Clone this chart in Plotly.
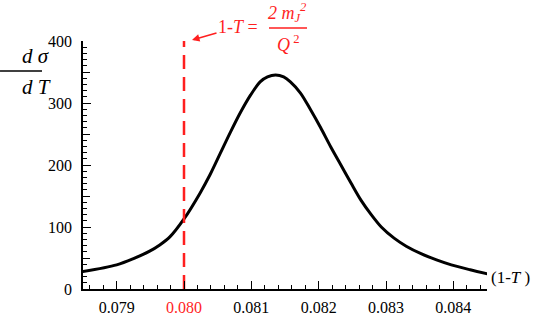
import plotly.graph_objects as go

# thrust-like distribution (1-T) vs d sigma / dT
one_minus_t = [0.07849, 0.0790, 0.07925, 0.07949, 0.07964, 0.07979, 0.0800, 0.08024, 0.08039,
               0.08054, 0.08069, 0.08084, 0.08099, 0.08113, 0.08124, 0.08136, 0.08148,
               0.08158, 0.08173, 0.08188, 0.08203, 0.08218, 0.08233, 0.08248, 0.08263,
               0.08278, 0.08293, 0.08312, 0.08330, 0.08352, 0.08375, 0.08397, 0.08425, 0.08452]
dsigma_dt = [28, 39, 49, 61, 71, 84, 113, 155, 185,
             219, 253, 285, 313, 334, 342, 345, 342,
             334, 316, 289, 260, 229, 200, 171, 143,
             120, 100, 82, 69, 57, 47, 39, 31, 24]

x_ticks = [0.079, 0.080, 0.081, 0.082, 0.083, 0.084]
RED = "#ff1f1f"
x_ticktext = ["0.079", f"<span style='color:{RED}'>0.080</span>", "0.081", "0.082", "0.083", "0.084"]

threshold = 0.080          # 1-T = 2 m_J^2 / Q^2
threshold_span = [0, 414]

FONT = "Liberation Serif"
tick_font = dict(family="Liberation Serif", size=16, color="black")

fig = go.Figure()
fig.add_trace(go.Scatter(
    x=one_minus_t, y=dsigma_dt, mode="lines",
    line=dict(color="black", width=3, shape="spline", smoothing=0.9),
    showlegend=False, hoverinfo="skip",
))
fig.add_trace(go.Scatter(
    x=[threshold, threshold], y=threshold_span, mode="lines", yaxis="y2",
    line=dict(color=RED, width=2.5, dash="14px,8px"), cliponaxis=False,
    showlegend=False, hoverinfo="skip",
))

fig.update_layout(
    width=545, height=322,
    margin=dict(l=83, r=58, t=41, b=33),
    paper_bgcolor="white", plot_bgcolor="white",
    font=dict(family=FONT, size=16, color="black"),
    xaxis=dict(
        range=[0.0785, 0.0845], showgrid=False, zeroline=False, automargin=False,
        showline=True, linecolor="black", linewidth=1.5,
        tickvals=x_ticks, ticktext=x_ticktext, tickfont=tick_font,
        ticks="inside", ticklen=8, tickwidth=1.3, tickcolor="black",
        ticklabelstandoff=3,
        minor=dict(ticks="inside", dtick=0.0002, tick0=0.079, ticklen=4, tickwidth=1, tickcolor="black"),
    ),
    yaxis=dict(
        range=[0, 400], showgrid=False, zeroline=False, automargin=False,
        showline=True, linecolor="black", linewidth=1.5, tickfont=tick_font,
        dtick=100, ticks="inside", ticklen=8, tickwidth=1.3, tickcolor="black",
        ticklabelstandoff=6,
        minor=dict(ticks="inside", dtick=10, ticklen=4, tickwidth=1, tickcolor="black"),
    ),
    yaxis2=dict(
        range=[0, 400], overlaying="y", anchor="x", side="left", showgrid=False,
        zeroline=False, showline=False, showticklabels=False,
        dtick=50, ticks="inside", ticklen=7, tickwidth=1.3, tickcolor="black",
    ),
)

# y-axis label as a fraction d sigma / d T
fig.add_annotation(text="<i>d σ</i>", xref="paper", yref="paper", x=-0.156, y=0.885,
                   yanchor="bottom", showarrow=False, font=dict(size=21))
fig.add_annotation(text="<i>d T</i>", xref="paper", yref="paper", x=-0.156, y=0.872,
                   yanchor="top", showarrow=False, font=dict(size=21))
fig.add_shape(type="line", xref="paper", yref="paper", x0=-0.2054, x1=-0.1015, y0=0.879, y1=0.879,
              line=dict(color="black", width=1.5))

# x-axis label
fig.add_annotation(text="(1-<i>T</i> )", xref="paper", yref="paper", x=1.005, y=0.0,
                   xanchor="left", showarrow=False, font=dict(size=17))

# threshold annotation
fig.add_annotation(text="1-<i>T</i> =", xref="paper", yref="paper", x=0.2698, y=1.004,
                   ax=46, ay=-13, showarrow=True, arrowhead=2, arrowsize=1, arrowwidth=1.5,
                   arrowcolor=RED, font=dict(size=18, color=RED))
fig.add_annotation(text="<i>2 m<sub>J</sub><sup>2</sup></i>", xref="paper", yref="paper", x=0.507, y=1.058,
                   yanchor="bottom", showarrow=False, font=dict(size=18, color=RED))
fig.add_annotation(text="<i>Q</i><sup> 2</sup>", xref="paper", yref="paper", x=0.507, y=1.046,
                   yanchor="top", showarrow=False, font=dict(size=18, color=RED))
fig.add_shape(type="line", xref="paper", yref="paper", x0=0.4604, x1=0.5545, y0=1.052, y1=1.052,
              line=dict(color=RED, width=1.5))

fig.write_html("out.html", config={"displayModeBar": False},
               post_script="document.body.style.margin='0px';")
